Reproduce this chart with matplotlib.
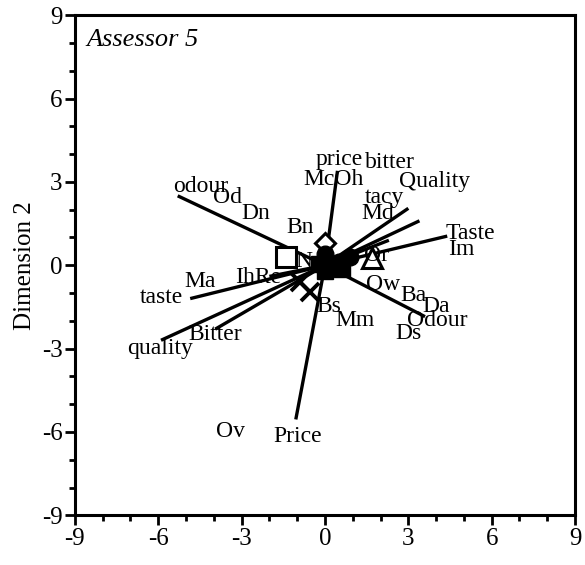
import matplotlib
matplotlib.use("Agg")
import matplotlib.pyplot as plt
from matplotlib.ticker import MultipleLocator

plt.rcParams['font.family'] = ['Liberation Serif', 'DejaVu Serif']
plt.rcParams['axes.unicode_minus'] = False

# attribute vectors (end points, drawn from the origin)
vec_x = [-5.3, 0.45, -1.05, 3.0, 3.4, 4.4, 2.3, 3.6, -4.85, -5.9, -3.95, -2.0]
vec_y = [2.5, 3.4, -5.55, 2.05, 1.6, 1.05, 0.9, -1.85, -1.2, -2.7, -2.3, -0.4]

# text labels
lab_text = ['odour', 'Od', 'Dn', 'Bn', 'price', 'McOh', 'bitter', 'Quality', 'tacy',
            'Md', 'Taste', 'Im', 'Or', 'Ow', 'Ba', 'Da', 'Odour', 'Ds', 'Mm', 'Bs',
            'Ma', 'IhRe', 'taste', 'Bitter', 'quality', 'Ov', 'Price', 'N']
lab_x = [-4.46, -3.5, -2.5, -0.9, 0.5, 0.3, 2.35, 3.95, 2.15, 1.9, 5.25, 4.9, 1.87,
         2.1, 3.2, 4.0, 4.05, 3.0, 1.08, 0.15, -4.5, -2.4, -5.9, -3.95, -5.95, -3.4,
         -1.0, -0.75]
lab_y = [2.84, 2.45, 1.87, 1.37, 3.8, 3.1, 3.7, 3.0, 2.45, 1.85, 1.15, 0.58, 0.36,
         -0.68, -1.1, -1.5, -1.98, -2.45, -2.0, -1.47, -0.6, -0.43, -1.15, -2.48,
         -3.0, -5.97, -6.15, 0.12]

# object markers
open_sq = ([-1.4], [0.3])
open_dia = ([0.0], [0.8])
open_tri = ([1.7], [0.25])
cross_x = [-0.9, -0.55]
cross_y = [-0.6, -0.95]
fill_sq_x = [0.0, -0.2, 0.3, 0.6]
fill_sq_y = [-0.2, 0.05, 0.0, -0.15]
fill_ci_x = [0.9, 0.5, 0.0]
fill_ci_y = [0.3, 0.1, 0.4]

fig = plt.figure(figsize=(5.85, 5.65), dpi=100)
ax = fig.add_axes([0.128, 0.088, 0.855, 0.885])

for x, y in zip(vec_x, vec_y):
    ax.plot([0, x], [0, y], color='black', lw=2.4, solid_capstyle='butt', zorder=2)

ax.plot(*open_sq, marker='s', ms=15, mfc='white', mec='black', mew=2.2, ls='none', zorder=3)
ax.plot(*open_dia, marker='D', ms=10, mfc='white', mec='black', mew=2.2, ls='none', zorder=3)
ax.plot(*open_tri, marker='^', ms=15, mfc='white', mec='black', mew=2.2, ls='none', zorder=3)
ax.plot(cross_x, cross_y, marker='x', ms=13, mec='black', mew=2.8, ls='none', zorder=3)
ax.plot(fill_sq_x, fill_sq_y, marker='s', ms=12, color='black', ls='none', zorder=3)
ax.plot(fill_ci_x, fill_ci_y, marker='o', ms=12, color='black', ls='none', zorder=3)

for t, x, y in zip(lab_text, lab_x, lab_y):
    ax.text(x, y, t, fontsize=17, ha='center', va='center', zorder=4)

ax.text(-8.6, 8.1, 'Assessor 5', fontsize=19, style='italic', ha='left', va='center')

ax.set_xlim(-9, 9)
ax.set_ylim(-9, 9)
ax.set_xticks([-9, -6, -3, 0, 3, 6, 9])
ax.set_yticks([-9, -6, -3, 0, 3, 6, 9])
ax.xaxis.set_minor_locator(MultipleLocator(1))
ax.yaxis.set_minor_locator(MultipleLocator(1))
ax.tick_params(which='major', direction='out', length=7, width=2, labelsize=18,
               top=False, right=False, pad=2)
ax.tick_params(which='minor', direction='out', length=4, width=2, top=False, right=False)
for s in ax.spines.values():
    s.set_linewidth(2.2)
ax.set_ylabel('Dimension 2', fontsize=18, labelpad=4)

fig.savefig('out.png', dpi=100)
